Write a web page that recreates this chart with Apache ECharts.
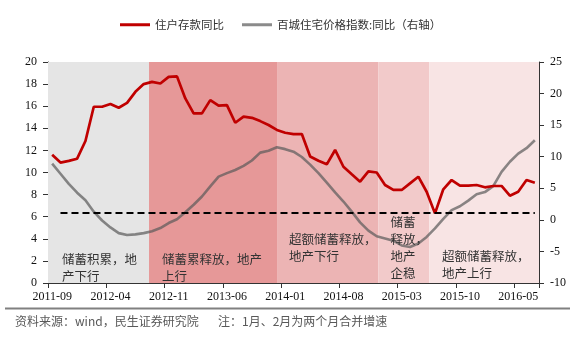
<!DOCTYPE html>
<html><head><meta charset="utf-8">
<script src="https://cdn.jsdelivr.net/npm/echarts@6/dist/echarts.min.js"></script>
<style>html,body{margin:0;padding:0;background:#fff}#c{width:575px;height:341px}</style>
</head><body><div id="c"></div>
<script>
const months = ['2011-09','2011-10','2011-11','2011-12','2012-01','2012-02','2012-03','2012-04','2012-05','2012-06','2012-07','2012-08','2012-09','2012-10','2012-11','2012-12',
'2013-01','2013-02','2013-03','2013-04','2013-05','2013-06','2013-07','2013-08','2013-09','2013-10','2013-11','2013-12',
'2014-01','2014-02','2014-03','2014-04','2014-05','2014-06','2014-07','2014-08','2014-09','2014-10','2014-11','2014-12',
'2015-01','2015-02','2015-03','2015-04','2015-05','2015-06','2015-07','2015-08','2015-09','2015-10','2015-11','2015-12',
'2016-01','2016-02','2016-03','2016-04','2016-05','2016-06','2016-07'];
const depositYoY = [11.6,10.9,11.05,11.25,12.85,15.95,15.95,16.2,15.86,16.3,17.3,18.0,18.2,18.05,18.65,18.7,
16.7,15.35,15.35,16.55,16.05,16.1,14.5,15.05,14.95,14.65,14.3,13.85,
13.6,13.48,13.48,11.45,11.07,10.74,12.04,10.52,9.84,9.17,10.1,10.0,
8.87,8.42,8.42,9.02,9.62,8.26,6.3,8.48,9.32,8.81,8.81,8.87,
8.66,8.78,8.78,7.9,8.26,9.32,9.08];
const priceYoY = [8.9,7.3,5.7,4.3,3.1,1.3,-0.1,-1.2,-2.1,-2.4,-2.3,-2.1,-1.8,-1.3,-0.5,0.1,
1.2,2.4,3.7,5.3,6.85,7.4,7.9,8.55,9.4,10.65,10.95,11.5,
11.2,10.8,9.95,8.75,7.4,5.9,4.35,2.9,1.3,-0.4,-1.7,-2.6,
-2.95,-3.3,-4.05,-4.3,-3.75,-2.7,-1.35,0.15,1.55,2.15,3.05,4.05,
4.4,5.35,7.6,9.2,10.5,11.35,12.6];
const refLevel = 6.35;
const refStart = '2011-10', refEnd = '2016-07';
const bandEdges = [0, 12.14, 27.6, 39.7, 45.8, 59];
const bandColors = ['#e5e5e5','#e69898','#ecb4b4','#f2caca','#f8e4e4'];
const seriesNames = ['住户存款同比','百城住宅价格指数:同比（右轴）'];
const notes = [
  {text:'储蓄积累，地\n产下行', x:62, y:250.5},
  {text:'储蓄累释放，地产\n上行', x:162, y:250.5},
  {text:'超额储蓄释放，\n地产下行', x:289, y:230.5},
  {text:'储蓄\n释放，\n地产\n企稳', x:390.5, y:213.5},
  {text:'超额储蓄释放，\n地产上行', x:442, y:247.5}
];
const sourceText = '资料来源：wind，民生证券研究院';
const noteText = '注：1月、2月为两个月合并增速';

const chart = echarts.init(document.getElementById('c'), null, {renderer:'canvas'});
const serif = 'Liberation Serif, Times New Roman, serif';
const cjk = 'Noto Sans CJK SC, sans-serif';
const axisCommon = {
  axisLine:{show:true, lineStyle:{color:'#333', width:1}},
  axisTick:{show:true, length:5, lineStyle:{color:'#333'}},
  axisLabel:{fontFamily:serif, fontSize:12, color:'#111', margin:11},
  splitLine:{show:false}
};
const bandData = [];
for (let i = 0; i < bandColors.length; i++) {
  bandData.push([{xAxis:bandEdges[i], yAxis:-0.45, itemStyle:{color:bandColors[i]}}, {xAxis:bandEdges[i+1], yAxis:20.1}]);
}
const graphics = notes.map(n => ({
  type:'text', left:n.x, top:n.y, z:100, silent:true,
  style:{text:n.text, font:'12.5px ' + cjk, fill:'#333', lineHeight:17}
}));
graphics.push({type:'line', z:100, shape:{x1:5, y1:308.5, x2:570, y2:308.5}, style:{stroke:'#808080', lineWidth:2}});
graphics.push({type:'text', left:15, top:315, z:100, style:{text:sourceText, font:'12px ' + cjk, fill:'#595959'}});
graphics.push({type:'text', left:218, top:315, z:100, style:{text:noteText, font:'12px ' + cjk, fill:'#595959'}});

chart.setOption({
  animation:false,
  backgroundColor:'#fff',
  grid:{left:48, right:36, top:62, bottom:58, containLabel:false},
  legend:{
    top:14, left:115, itemWidth:30, itemHeight:3, itemGap:18, icon:'rect',
    textStyle:{fontFamily:cjk, fontSize:11.5, color:'#333'},
    data:seriesNames
  },
  xAxis:[
    Object.assign({}, axisCommon, {
      type:'category', data:months, boundaryGap:true,
      axisTick:{show:true, interval:6, length:5, lineStyle:{color:'#333'}},
      axisLabel:{interval:6, fontFamily:serif, fontSize:12, color:'#111', margin:8}
    }),
    {type:'value', min:0, max:59, show:false}
  ],
  yAxis:[
    Object.assign({}, axisCommon, {type:'value', min:0, max:20, interval:2, position:'left'}),
    Object.assign({}, axisCommon, {type:'value', min:-10, max:25, interval:5, position:'right'})
  ],
  graphic:graphics,
  series:[
    {
      type:'line', xAxisIndex:1, yAxisIndex:0, data:[], silent:true, z:1,
      markArea:{silent:true, data:bandData}
    },
    {
      name:seriesNames[1], type:'line', xAxisIndex:0, yAxisIndex:1, data:priceYoY,
      symbol:'none', z:3,
      lineStyle:{color:'rgba(90,90,90,0.7)', width:2.6},
      itemStyle:{color:'rgba(90,90,90,0.7)'}
    },
    {
      name:seriesNames[0], type:'line', xAxisIndex:0, yAxisIndex:0, data:depositYoY,
      symbol:'none', z:4,
      lineStyle:{color:'#c00000', width:2.7},
      itemStyle:{color:'#c00000'},
      markLine:{
        silent:true, symbol:'none', label:{show:false},
        lineStyle:{color:'#000', type:[7,4], width:2},
        data:[[{coord:[refStart, refLevel]},{coord:[refEnd, refLevel]}]]
      }
    }
  ]
});
</script>
</body></html>
